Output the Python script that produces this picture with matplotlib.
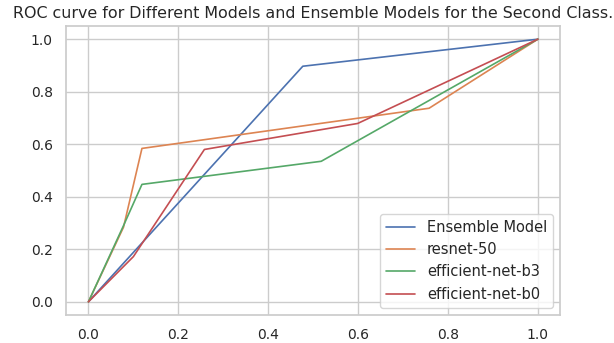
import matplotlib
matplotlib.use("Agg")
import matplotlib.pyplot as plt
import seaborn as sns

# ROC points
ens_fpr = [0.0, 0.477, 1.0]
ens_tpr = [0.0, 0.897, 1.0]

res_fpr = [0.0, 0.078, 0.119, 0.758, 1.0]
res_tpr = [0.0, 0.284, 0.584, 0.737, 1.0]

b3_fpr = [0.0, 0.078, 0.119, 0.518, 1.0]
b3_tpr = [0.0, 0.29, 0.447, 0.535, 1.0]

b0_fpr = [0.0, 0.1, 0.258, 0.599, 1.0]
b0_tpr = [0.0, 0.172, 0.58, 0.679, 1.0]

sns.set_theme(style="whitegrid")

fig = plt.figure(figsize=(6.14, 3.43), dpi=100)
ax = fig.add_axes([0.1075, 0.082, 0.805, 0.842])
pal = sns.color_palette("deep")
lw = 1.2
ax.plot(ens_fpr, ens_tpr, color=pal[0], lw=lw, label="Ensemble Model")
ax.plot(res_fpr, res_tpr, color=pal[1], lw=lw, label="resnet-50")
ax.plot(b3_fpr, b3_tpr, color=pal[2], lw=lw, label="efficient-net-b3")
ax.plot(b0_fpr, b0_tpr, color=pal[3], lw=lw, label="efficient-net-b0")

ax.set_xticks([0.0, 0.2, 0.4, 0.6, 0.8, 1.0])
ax.set_yticks([0.0, 0.2, 0.4, 0.6, 0.8, 1.0])
ax.tick_params(labelsize=10)
ax.set_title("ROC curve for Different Models and Ensemble Models for the Second Class.", fontsize=11.4)
ax.legend(loc="lower right", fontsize=10.5)

fig.savefig("out.png", dpi=100)
